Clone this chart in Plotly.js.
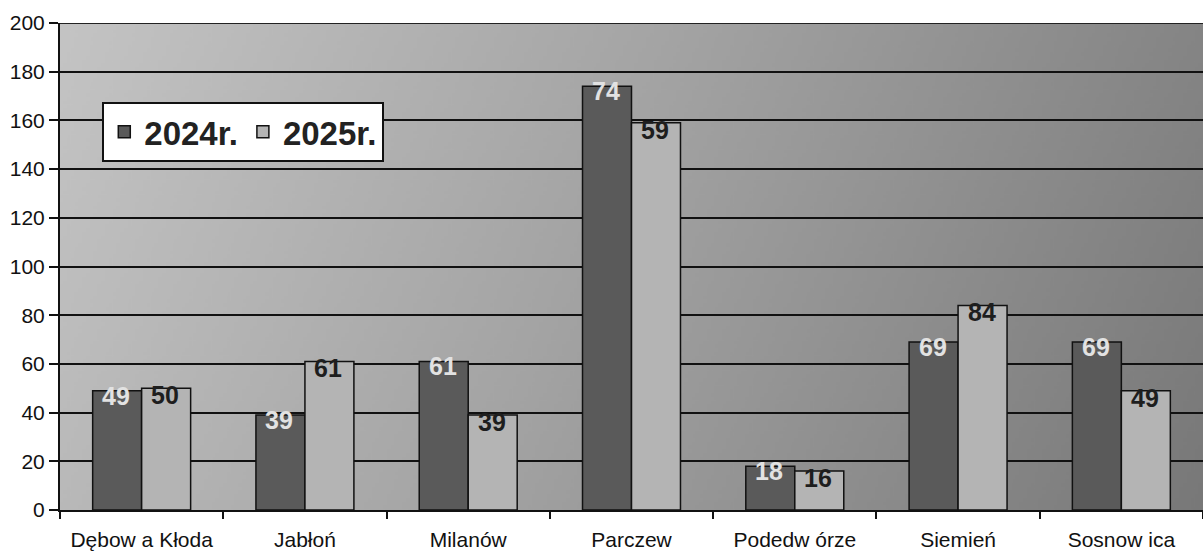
<!DOCTYPE html>
<html>
<head>
<meta charset="utf-8">
<script src="https://cdn.plot.ly/plotly-3.0.1.min.js"></script>
<style>
html,body{margin:0;padding:0;background:#fff;}
#chart{width:1203px;height:555px;}
</style>
</head>
<body>
<div id="chart"></div>
<script>
const categories = ['Dębow a Kłoda', 'Jabłoń', 'Milanów', 'Parczew', 'Podedw órze', 'Siemień', 'Sosnow ica'];
const values2024 = [49, 39, 61, 174, 18, 69, 69];
const values2025 = [50, 61, 39, 159, 16, 84, 49];
const labels2024 = ['49', '39', '61', '74', '18', '69', '69'];
const labels2025 = ['50', '61', '39', '59', '16', '84', '49'];
const seriesNames = ['2024r.', '2025r.'];
const yTicks = [0, 20, 40, 60, 80, 100, 120, 140, 160, 180, 200];

// gradient background image for plot area
const cv = document.createElement('canvas');
cv.width = 600; cv.height = 260;
const ctx = cv.getContext('2d');
const g = ctx.createLinearGradient(0, 0, 600, 260);
g.addColorStop(0, '#c4c4c4');
g.addColorStop(0.45, '#a4a4a4');
g.addColorStop(1, '#787878');
ctx.fillStyle = g;
ctx.fillRect(0, 0, 600, 260);
const bgURL = cv.toDataURL('image/png');

const margin = {l: 60, r: 0, t: 23, b: 45};
const plotW = 1203 - margin.l - margin.r;
const bargap = 0.4;
const barOffsetPx = (plotW / categories.length) * (1 - bargap) / 4;
const FONT = 'Liberation Sans, Arial, sans-serif';

const annotations = [];
categories.forEach((c, i) => {
  annotations.push({
    x: c, y: values2024[i], xref: 'x', yref: 'y', text: labels2024[i],
    showarrow: false, xshift: -barOffsetPx - 1, yshift: -5, yanchor: 'middle',
    font: {family: FONT, size: 25, color: '#e2e2e2', weight: 'bold'}
  });
  annotations.push({
    x: c, y: values2025[i], xref: 'x', yref: 'y', text: labels2025[i],
    showarrow: false, xshift: barOffsetPx - 1, yshift: -7, yanchor: 'middle',
    font: {family: FONT, size: 25, color: '#1e1e1e', weight: 'bold'}
  });
});

const traces = [
  {type: 'bar', name: seriesNames[0], x: categories, y: values2024,
   marker: {color: '#5a5a5a', line: {color: '#111', width: 1.5}}, hoverinfo: 'x+y'},
  {type: 'bar', name: seriesNames[1], x: categories, y: values2025,
   marker: {color: '#b4b4b4', line: {color: '#111', width: 1.5}}, hoverinfo: 'x+y'}
];

const layout = {
  width: 1203, height: 555,
  margin: margin,
  paper_bgcolor: '#ffffff',
  plot_bgcolor: 'rgba(0,0,0,0)',
  barmode: 'group',
  bargap: bargap,
  bargroupgap: 0,
  font: {family: FONT, color: '#111'},
  images: [{source: bgURL, xref: 'paper', yref: 'paper', x: 0, y: 1, sizex: 1, sizey: 1,
            sizing: 'stretch', layer: 'below', xanchor: 'left', yanchor: 'top'}],
  xaxis: {
    type: 'category', showline: true, linecolor: '#111', linewidth: 2,
    ticks: 'outside', ticklen: 7, tickwidth: 2, tickcolor: '#111', tickson: 'boundaries',
    ticklabelstandoff: 10,
    showgrid: false, tickfont: {size: 21, color: '#111'}, fixedrange: true
  },
  yaxis: {
    range: [0, 200], tickvals: yTicks, showline: true, linecolor: '#111', linewidth: 2,
    ticks: 'outside', ticklen: 9, tickwidth: 2, tickcolor: '#111',
    showgrid: true, gridcolor: '#111', gridwidth: 2, zeroline: false,
    tickfont: {size: 21, color: '#111'}, fixedrange: true
  },
  legend: {
    orientation: 'h', x: 0.037, y: 0.838, xanchor: 'left', yanchor: 'top',
    bgcolor: '#ffffff', bordercolor: '#111', borderwidth: 2,
    font: {size: 33, color: '#222', weight: 'bold'}
  },
  shapes: [{type: 'line', xref: 'paper', yref: 'y', x0: 0, x1: 1, y0: 200, y1: 200,
            line: {color: '#222', width: 2}}],
  annotations: annotations
};

Plotly.newPlot('chart', traces, layout, {displayModeBar: false, staticPlot: true});
</script>
</body>
</html>
